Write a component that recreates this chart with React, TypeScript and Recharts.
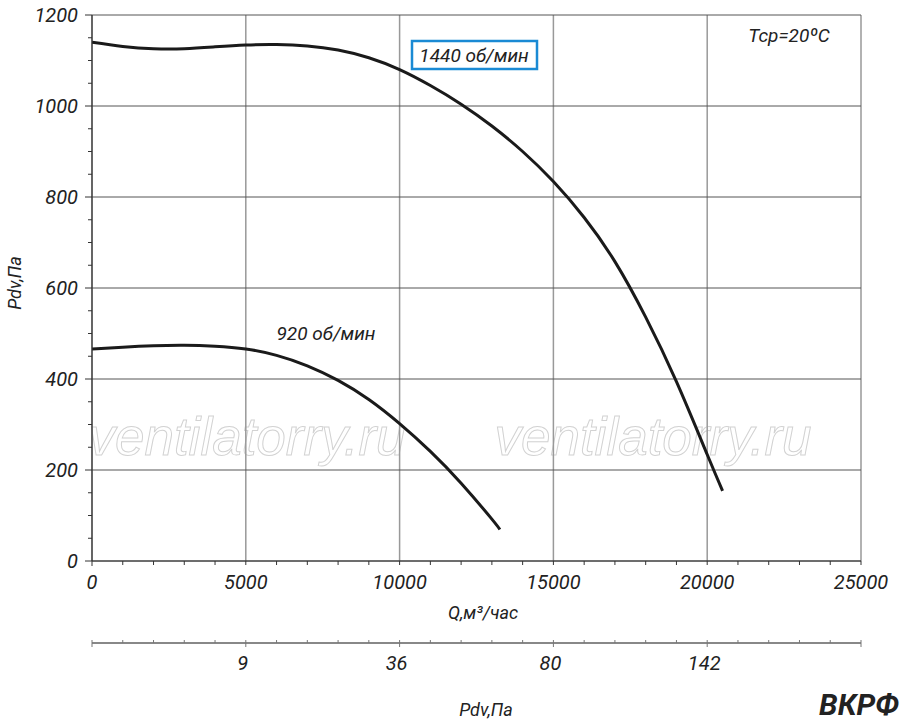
import { LineChart, Line, XAxis, YAxis, CartesianGrid } from 'recharts';

// Q, m3/h and Pdv, Pa
const q1440 = [0, 1000, 2000, 3000, 4000, 5000, 6000, 7000, 8000, 9000, 10000, 11000, 12000, 13000, 14000, 15000, 16000, 17000, 18000, 19000, 20000, 20500];
const p1440 = [1140, 1131, 1126, 1126, 1130, 1134, 1135, 1132, 1123, 1106, 1080, 1045, 1004, 956, 900, 834, 755, 658, 536, 394, 234, 154];

const q920 = [0, 1000, 2000, 3000, 4000, 5000, 6000, 7000, 8000, 9000, 10000, 11000, 12000, 13000, 13260];
const p920 = [466, 470, 473, 474, 472, 466, 452, 429, 397, 355, 302, 241, 171, 92, 69];

const qTicks = [0, 5000, 10000, 15000, 20000, 25000];
const pTicks = [0, 200, 400, 600, 800, 1000, 1200];
const pdvLabels: Record<number, string> = { 5000: '9', 10000: '36', 15000: '80', 20000: '142' };

const qMinor = Array.from({ length: 26 }, (_, i) => i * 1000);
const pMinor = Array.from({ length: 25 }, (_, i) => i * 50);

const data1440 = q1440.map((q, i) => ({ q, p: p1440[i] }));
const data920 = q920.map((q, i) => ({ q, p: p920[i] }));

const FONT = 'Roboto, "Liberation Sans", sans-serif';
const TEXT = '#222';

const QTick = ({ x, y, payload }: any) => {
  const major = payload.value % 5000 === 0;
  return (
    <g>
      <line x1={x} y1={y} x2={x} y2={y + (payload.value === 0 ? 5 : 4)} stroke="#333" strokeWidth={1} />
      {major && (
        <text x={x} y={y + 28} textAnchor="middle" fill={TEXT} fontSize={20} fontStyle="italic" fontFamily={FONT}>
          {payload.value}
        </text>
      )}
    </g>
  );
};

const PdvTick = ({ x, y, payload }: any) => {
  const major = payload.value % 5000 === 0;
  const label = pdvLabels[payload.value];
  return (
    <g>
      <line x1={x} y1={y - 3} x2={x} y2={major ? y + 4 : y} stroke="#777" strokeWidth={1} />
      {label && (
        <text x={x - 3} y={y + 27} textAnchor="middle" fill={TEXT} fontSize={20} fontStyle="italic" fontFamily={FONT}>
          {label}
        </text>
      )}
    </g>
  );
};

const PTick = ({ x, y, payload }: any) => {
  const major = payload.value % 200 === 0;
  return (
    <g>
      <line x1={x - (major ? 7 : 4)} y1={y} x2={x} y2={y} stroke="#333" strokeWidth={1} />
      {major && (
        <text x={x - 14} y={y + 7} textAnchor="end" fill={TEXT} fontSize={20} fontStyle="italic" fontFamily={FONT}>
          {payload.value}
        </text>
      )}
    </g>
  );
};

export default function App() {
  const italic = { fontFamily: FONT, fontStyle: 'italic' as const, fill: TEXT };
  const mark = {
    fontSize: 53,
    fontStyle: 'italic' as const,
    fontFamily: '"Liberation Sans", Arial, sans-serif',
    fill: 'none',
    stroke: '#d2d2d2',
    strokeWidth: 1,
  };
  return (
    <div style={{ position: 'absolute', left: 0, top: 0, width: 900, height: 722, background: '#fff' }}>
      <svg width={900} height={722} style={{ position: 'absolute', left: 0, top: 0 }}>
        <text x={247} y={455} textAnchor="middle" {...mark}>ventilatorry.ru</text>
        <text x={653} y={455} textAnchor="middle" {...mark}>ventilatorry.ru</text>
      </svg>
      <div style={{ position: 'absolute', left: 0, top: 0 }}>
        <LineChart width={900} height={722} margin={{ top: 15, right: 39, bottom: 0, left: 0 }}>
          <CartesianGrid horizontal={false} verticalValues={qTicks} stroke="#999" strokeWidth={1.5} />
          <CartesianGrid vertical={false} horizontalValues={pTicks} stroke="#555" strokeWidth={1} />
          <XAxis
            type="number"
            dataKey="q"
            domain={[0, 25000]}
            ticks={qMinor}
            interval={0}
            height={82}
            tickSize={0}
            tickMargin={0}
            tickLine={false}
            axisLine={{ stroke: '#333', strokeWidth: 1.2 }}
            tick={(p: any) => <QTick {...p} />}
            allowDataOverflow
          />
          <XAxis
            xAxisId="pdv"
            type="number"
            dataKey="q"
            domain={[0, 25000]}
            ticks={qMinor}
            interval={0}
            height={79}
            tickSize={0}
            tickMargin={0}
            tickLine={false}
            axisLine={{ stroke: '#888', strokeWidth: 2 }}
            tick={(p: any) => <PdvTick {...p} />}
            allowDataOverflow
          />
          <YAxis
            type="number"
            domain={[0, 1200]}
            ticks={pMinor}
            interval={0}
            width={92}
            tickSize={0}
            tickMargin={0}
            tickLine={false}
            axisLine={{ stroke: '#333', strokeWidth: 1.2 }}
            tick={(p: any) => <PTick {...p} />}
            allowDataOverflow
          />
          <Line data={data1440} dataKey="p" type="natural" stroke="#1a1a1a" strokeWidth={3} dot={false} isAnimationActive={false} />
          <Line data={data920} dataKey="p" type="natural" stroke="#1a1a1a" strokeWidth={3} dot={false} isAnimationActive={false} />
        </LineChart>
      </div>
      <svg width={900} height={722} style={{ position: 'absolute', left: 0, top: 0, pointerEvents: 'none' }}>
        <rect x={412} y={41} width={125} height={28} fill="#fff" stroke="#1a8ad4" strokeWidth={2.5} />
        <text x={474} y={62} textAnchor="middle" fontSize={19} {...italic}>1440 об/мин</text>
        <text x={326} y={340} textAnchor="middle" fontSize={19} {...italic}>920 об/мин</text>
        <text x={789} y={42} textAnchor="middle" fontSize={19} {...italic}>Tcp=20ºC</text>
        <text x={483} y={619} textAnchor="middle" fontSize={18} {...italic}>Q,м³/час</text>
        <text x={486} y={716} textAnchor="middle" fontSize={18} {...italic}>Pdv,Па</text>
        <text x={14} y={283} textAnchor="middle" fontSize={18} {...italic} transform="rotate(-90 14 283)" dominantBaseline="central">Pdv,Па</text>
        <text x={899} y={715} textAnchor="end" fontSize={30} fontWeight={700} {...italic}>ВКРФ</text>
      </svg>
    </div>
  );
}
